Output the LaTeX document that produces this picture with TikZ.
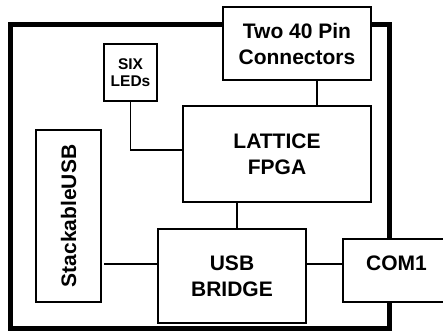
\documentclass[tikz,border=0pt]{standalone}
\usepackage{fontspec}
\setmainfont{Liberation Sans}

\begin{document}
\begin{tikzpicture}[x=1pt,y=-1pt,
  block/.style={draw, line width=1.3pt, fill=white, align=center, inner sep=0pt,
    font=\bfseries\fontsize{21}{26}\selectfont},
  wire/.style={line width=1.3pt}]

\useasboundingbox (0,0) rectangle (443,331);

% Draw the board
\draw[line width=5pt] (10.5,24.5) rectangle (389,328);

% Draw the blocks
\node[block, minimum width=148pt, minimum height=73pt] (pins) at (297,43.5) {Two 40 Pin\\Connectors};
\node[block, minimum width=53pt, minimum height=57pt,
  font=\bfseries\fontsize{15.5}{17}\selectfont] (leds) at (130.5,72.5) {SIX\\LEDs};
\node[block, minimum width=188pt, minimum height=96pt] (fpga) at (277,154) {LATTICE\\FPGA};
\node[block, minimum width=172pt, minimum height=65pt, rotate=90] (stack) at (68.5,216) {StackableUSB};
\node[block, minimum width=148pt, minimum height=94pt] (bridge) at (232,276) {USB\\BRIDGE};
\node[block, minimum width=107pt, minimum height=63pt,
  text height=12pt, text depth=12pt] (com) at (396.5,270.5) {COM1};

% Draw the wires
\draw[wire] ([xshift=20pt]pins.south) -- ([xshift=20pt]pins.south |- fpga.north);
\draw[wire] (leds.south) |- ([yshift=4pt]fpga.west);
\draw[wire] ([xshift=5pt]bridge.north) -- ([xshift=5pt]bridge.north |- fpga.south);
\draw[wire, shorten >=2pt] ([yshift=12pt]bridge.west) -- ([yshift=12pt]bridge.west -| stack.south);
\draw[wire] ([yshift=6.5pt]com.west) -- ([yshift=6.5pt]com.west -| bridge.east);

\end{tikzpicture}
\end{document}
